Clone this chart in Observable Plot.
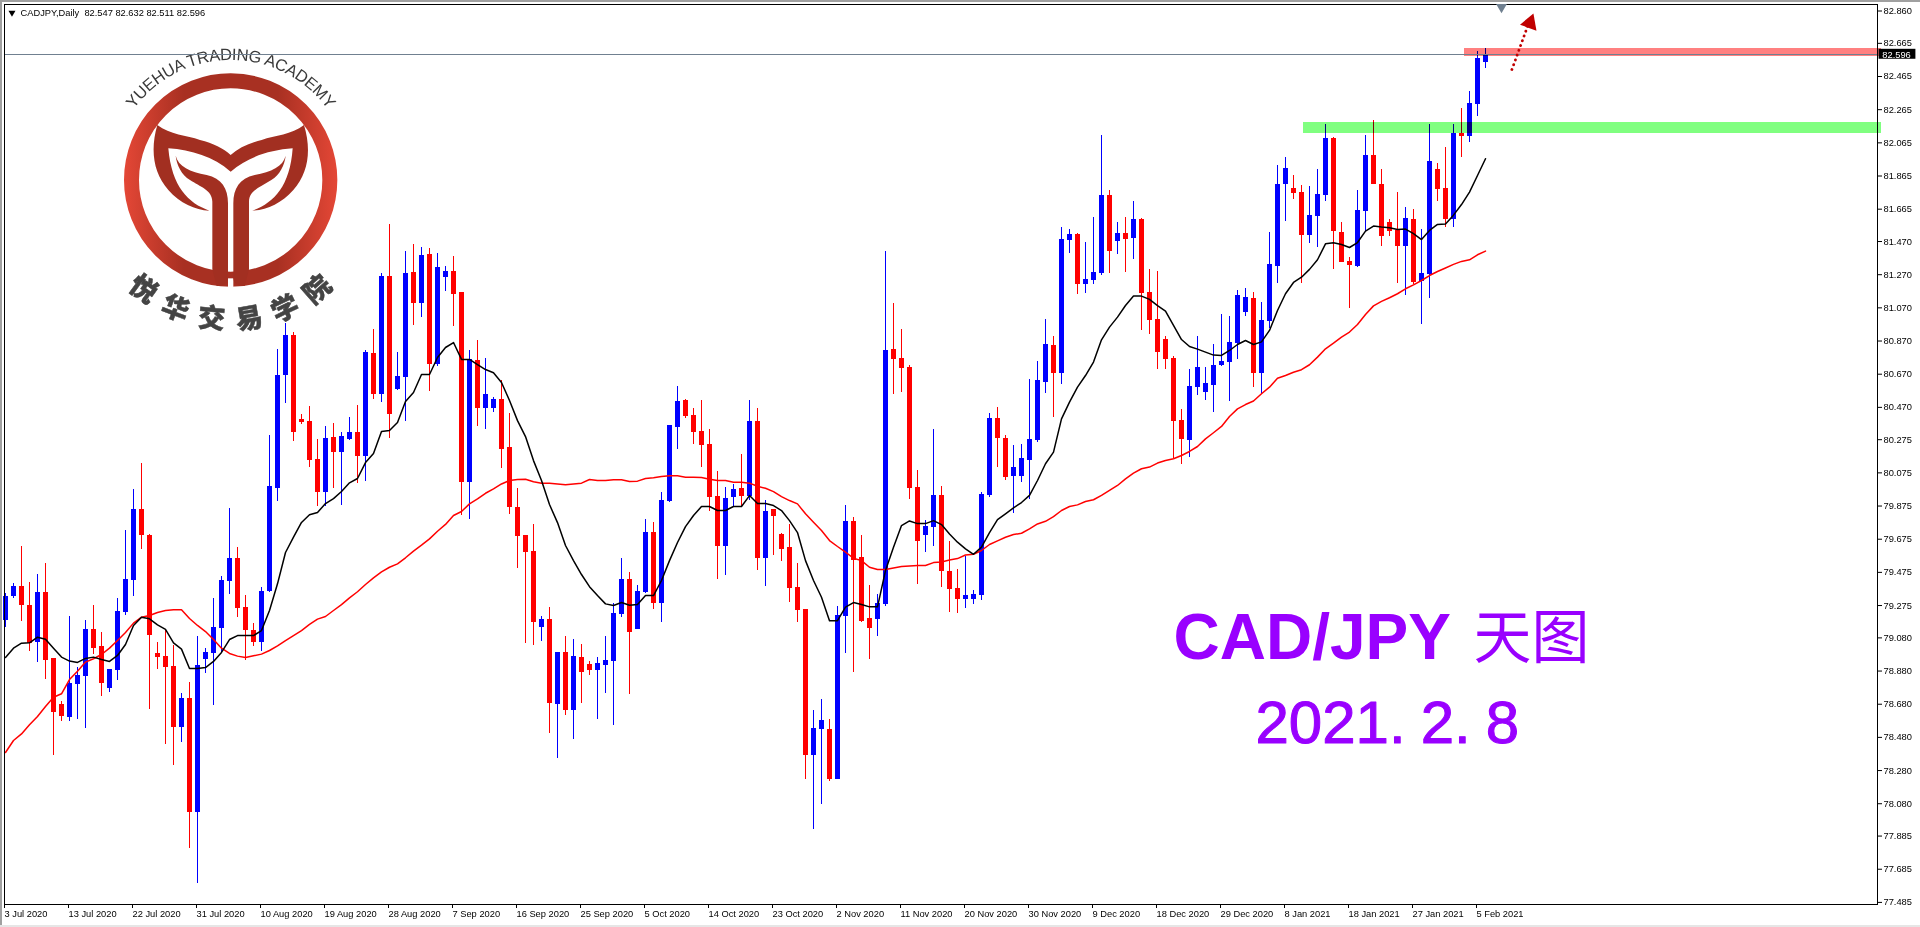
<!DOCTYPE html>
<html>
<head>
<meta charset="utf-8">
<script src="https://cdn.jsdelivr.net/npm/d3@7"></script>
<script src="https://cdn.jsdelivr.net/npm/@observablehq/plot@0.6"></script>
<style>html,body{margin:0;padding:0;background:#fff;overflow:hidden}svg{display:block}</style>
</head>
<body>
<div id="chart"></div>
<script>
const opens=[79.185,79.330,79.390,79.275,79.052,79.354,78.956,78.678,78.600,78.799,
78.847,79.131,79.028,78.775,78.883,79.233,79.426,79.854,79.697,78.986,
78.968,78.907,78.540,78.714,78.027,78.950,78.986,79.137,79.420,79.559,
79.263,79.124,79.052,79.360,79.981,80.662,80.903,80.397,80.385,80.156,
79.957,80.288,80.198,80.276,80.318,80.174,80.795,80.547,81.259,80.578,
80.650,81.283,81.096,81.392,80.728,81.253,81.289,81.163,80.017,80.752,
80.463,80.463,80.517,80.228,79.866,79.697,79.601,79.142,79.191,78.678,
78.992,78.642,78.961,78.919,78.883,78.913,78.937,79.221,79.432,79.130,
79.353,79.715,79.287,79.902,80.348,80.511,80.421,80.324,80.246,79.932,
79.631,79.926,79.980,79.932,80.384,79.558,79.854,79.703,79.627,79.381,
79.249,78.370,78.525,78.525,78.226,79.207,79.781,79.564,79.194,79.188,
79.279,80.819,80.764,80.710,79.986,79.697,79.745,79.936,79.480,79.375,
79.309,79.309,79.333,79.936,80.402,80.282,80.053,80.053,80.150,80.270,
80.620,80.843,80.674,81.476,81.513,81.211,81.235,81.277,81.748,81.470,
81.519,81.488,81.603,81.163,81.000,80.879,80.765,80.391,80.270,80.590,
80.560,80.602,80.723,80.741,80.855,81.042,81.127,80.674,80.988,81.320,
81.814,81.790,81.766,81.507,81.621,81.748,82.091,81.525,81.350,81.320,
81.651,81.989,81.814,81.585,81.537,81.440,81.603,81.229,81.271,81.905,
81.790,81.603,82.121,82.103,82.296,82.547];
const highs=[79.346,79.408,79.633,79.414,79.462,79.529,78.956,78.696,79.209,78.901,
79.185,79.275,79.112,78.889,79.317,79.727,79.975,80.132,79.703,79.052,
79.124,79.034,78.745,78.811,79.088,79.016,79.317,79.450,79.860,79.625,
79.336,79.167,79.384,80.300,80.819,80.976,80.921,80.427,80.475,80.276,
80.355,80.373,80.318,80.409,80.481,80.813,80.939,81.277,81.573,80.801,
81.410,81.452,81.434,81.428,81.398,81.319,81.380,81.163,80.813,80.873,
80.765,80.529,80.632,80.433,79.980,79.697,79.763,79.209,79.263,78.992,
79.088,79.070,79.040,78.937,78.961,79.088,79.287,79.558,79.474,79.396,
79.794,79.776,79.956,80.360,80.595,80.517,80.463,80.511,80.336,80.083,
79.986,80.004,80.185,80.511,80.463,79.908,79.854,79.709,79.763,79.530,
79.249,78.640,78.710,78.585,79.267,79.878,79.805,79.697,79.393,79.339,
81.409,81.096,80.939,80.722,80.089,79.787,80.338,79.990,79.663,79.494,
79.568,79.363,79.954,80.433,80.469,80.302,80.240,80.246,80.638,80.747,
81.000,80.898,81.555,81.543,81.519,81.464,81.615,82.110,81.778,81.585,
81.615,81.712,81.609,81.302,81.289,80.898,80.777,80.457,80.699,80.898,
80.711,80.849,81.030,81.018,81.175,81.187,81.163,81.103,81.525,81.929,
81.977,81.868,81.808,81.802,81.905,82.176,82.097,81.585,81.374,81.778,
82.110,82.200,81.905,81.603,81.766,81.675,81.663,81.543,82.176,81.941,
82.037,82.176,82.272,82.374,82.615,82.632];
const lows=[79.145,79.319,79.179,78.998,78.932,78.829,78.371,78.576,78.576,78.588,
78.534,78.980,78.727,78.751,78.823,79.215,79.330,79.613,78.648,78.889,
78.437,78.310,78.449,77.810,77.599,78.865,78.672,78.984,79.342,79.203,
78.944,79.028,78.998,79.354,79.902,80.493,80.264,80.367,80.107,79.872,
79.872,79.981,79.878,80.270,80.011,80.023,80.517,80.499,80.282,80.572,
80.385,80.964,81.012,80.566,80.716,81.169,80.958,79.818,79.794,80.355,
80.336,80.439,80.101,79.824,79.498,79.046,79.034,79.058,78.503,78.352,
78.612,78.467,78.684,78.853,78.588,78.744,78.551,79.203,78.738,79.130,
79.347,79.251,79.173,79.896,80.216,80.402,80.246,80.107,79.842,79.432,
79.456,79.872,79.872,79.908,79.486,79.390,79.578,79.542,79.293,79.172,
78.226,77.924,78.073,78.214,78.226,78.985,78.873,79.172,78.949,79.088,
79.267,80.547,80.559,79.914,79.400,79.596,79.633,79.381,79.231,79.225,
79.255,79.279,79.303,79.924,80.105,80.027,79.830,80.017,79.915,80.258,
80.554,80.409,80.608,81.398,81.151,81.157,81.211,81.265,81.277,81.392,
81.283,81.362,80.934,80.910,80.699,80.699,80.162,80.126,80.168,80.542,
80.512,80.439,80.717,80.506,80.759,81.018,80.590,80.548,80.946,81.217,
81.591,81.724,81.217,81.458,81.434,81.712,81.302,81.344,81.066,81.314,
81.531,81.814,81.440,81.501,81.217,81.145,81.211,80.970,81.127,81.712,
81.555,81.555,81.976,82.067,82.224,82.511];
const closes=[79.330,79.390,79.275,79.048,79.354,78.944,78.630,78.606,78.805,78.853,
79.131,79.016,78.805,78.889,79.239,79.432,79.854,79.697,79.094,78.962,
78.901,78.540,78.714,78.027,78.913,78.992,79.143,79.426,79.559,79.257,
79.124,79.052,79.360,79.993,80.662,80.903,80.318,80.379,80.149,79.957,
80.282,80.198,80.294,80.318,80.174,80.801,80.547,81.259,80.427,80.656,
81.277,81.096,81.386,80.728,81.313,81.289,81.150,80.017,80.759,80.463,
80.547,80.517,80.216,79.866,79.691,79.595,79.173,79.191,78.684,78.992,
78.642,78.968,78.871,78.883,78.925,78.943,79.227,79.432,79.112,79.359,
79.715,79.287,79.908,80.360,80.505,80.415,80.318,80.240,79.926,79.631,
79.920,79.974,79.932,80.384,79.558,79.842,79.812,79.615,79.375,79.245,
78.370,78.531,78.579,78.226,79.213,79.781,79.546,79.178,79.136,79.285,
80.812,80.758,80.704,79.980,79.664,79.751,79.936,79.480,79.369,79.309,
79.333,79.339,79.942,80.402,80.280,80.049,80.108,80.162,80.276,80.632,
80.849,80.674,81.482,81.513,81.211,81.241,81.283,81.748,81.410,81.519,
81.482,81.603,81.157,80.994,80.801,80.759,80.385,80.276,80.596,80.711,
80.614,80.723,80.747,80.861,81.145,81.133,80.674,80.994,81.332,81.814,
81.911,81.760,81.507,81.627,81.754,82.091,81.531,81.344,81.326,81.657,
81.989,81.814,81.501,81.531,81.440,81.609,81.223,81.277,81.953,81.784,
81.603,82.122,82.103,82.302,82.573,82.596];
const maFast=[78.962,79.018,79.048,79.050,79.084,79.072,79.018,78.964,78.940,78.932,
78.956,78.964,78.950,78.938,78.974,79.040,79.155,79.205,79.195,79.159,
79.131,79.050,79.012,78.895,78.895,78.901,78.938,78.992,79.070,79.094,
79.094,79.094,79.124,79.245,79.406,79.595,79.687,79.776,79.822,79.836,
79.890,79.920,79.963,80.015,80.041,80.137,80.192,80.324,80.330,80.379,
80.505,80.560,80.668,80.668,80.771,80.831,80.861,80.759,80.759,80.728,
80.698,80.679,80.620,80.511,80.390,80.294,80.149,80.029,79.884,79.775,
79.637,79.546,79.462,79.389,79.335,79.285,79.275,79.293,79.277,79.281,
79.335,79.335,79.426,79.546,79.655,79.751,79.818,79.872,79.872,79.848,
79.848,79.872,79.872,79.938,79.890,79.890,79.878,79.848,79.787,79.715,
79.546,79.426,79.325,79.184,79.184,79.265,79.293,79.281,79.267,79.267,
79.486,79.627,79.757,79.785,79.769,79.769,79.787,79.763,79.707,79.657,
79.617,79.584,79.627,79.715,79.793,79.828,79.864,79.896,79.939,80.029,
80.130,80.200,80.401,80.502,80.592,80.662,80.743,80.877,80.954,81.014,
81.084,81.141,81.141,81.121,81.084,81.050,80.964,80.879,80.837,80.821,
80.803,80.785,80.783,80.813,80.849,80.873,80.849,80.865,80.934,81.054,
81.155,81.223,81.255,81.302,81.360,81.456,81.462,81.452,81.434,81.464,
81.533,81.563,81.557,81.553,81.543,81.545,81.517,81.482,81.537,81.573,
81.575,81.629,81.693,81.768,81.868,81.969];
const maSlow=[78.389,78.461,78.501,78.556,78.606,78.666,78.722,78.743,78.829,78.879,
78.934,78.954,78.980,79.018,79.064,79.112,79.169,79.205,79.215,79.233,
79.245,79.249,79.249,79.197,79.155,79.118,79.070,79.018,78.986,78.970,
78.962,78.972,78.982,79.004,79.032,79.064,79.094,79.124,79.161,79.193,
79.209,79.245,79.281,79.321,79.358,79.402,79.442,79.478,79.506,79.526,
79.563,79.603,79.639,79.677,79.723,79.764,79.818,79.842,79.888,79.918,
79.952,79.978,80.008,80.029,80.035,80.037,80.021,80.013,80.013,80.008,
80.004,80.008,80.013,80.035,80.029,80.029,80.033,80.033,80.023,80.025,
80.041,80.045,80.053,80.057,80.057,80.049,80.049,80.047,80.037,80.029,
80.029,80.019,80.019,80.013,79.994,79.982,79.962,79.932,79.908,79.888,
79.828,79.777,79.727,79.667,79.631,79.597,79.560,79.546,79.506,79.492,
79.492,79.502,79.510,79.514,79.516,79.516,79.534,79.538,79.550,79.558,
79.580,79.584,79.607,79.643,79.665,79.687,79.703,79.711,79.737,79.767,
79.783,79.811,79.848,79.872,79.882,79.902,79.913,79.939,79.969,79.999,
80.039,80.073,80.100,80.110,80.134,80.150,80.160,80.180,80.204,80.234,
80.280,80.317,80.355,80.415,80.461,80.487,80.508,80.552,80.592,80.646,
80.662,80.682,80.697,80.727,80.773,80.823,80.857,80.894,80.924,80.970,
81.030,81.082,81.109,81.131,81.155,81.185,81.209,81.235,81.265,81.289,
81.310,81.332,81.350,81.360,81.390,81.412];
const xLabels=["3 Jul 2020","13 Jul 2020","22 Jul 2020","31 Jul 2020","10 Aug 2020","19 Aug 2020","28 Aug 2020","7 Sep 2020","16 Sep 2020","25 Sep 2020","5 Oct 2020","14 Oct 2020","23 Oct 2020","2 Nov 2020","11 Nov 2020","20 Nov 2020","30 Nov 2020","9 Dec 2020","18 Dec 2020","29 Dec 2020","8 Jan 2021","18 Jan 2021","27 Jan 2021","5 Feb 2021"];
const yTicks=[82.860,82.665,82.465,82.265,82.065,81.865,81.665,81.470,81.270,81.070,80.870,80.670,80.470,80.275,80.075,79.875,79.675,79.475,79.275,79.080,78.880,78.680,78.480,78.280,78.080,77.885,77.685,77.485];
const zones=[{x1:162.2,x2:234.5,y1:82.188,y2:82.122,fill:"#80ff80"},{x1:182.4,x2:234.5,y1:82.634,y2:82.587,fill:"#ff8080"}];
const lastClose=82.596;
const title="CADJPY,Daily\u00a0 82.547 82.632 82.511 82.596";
const arrowLine=[{x:188.3,y:82.507},{x:190.3,y:82.773}];

const candles=opens.map((o,i)=>({i,o,h:highs[i],l:lows[i],c:closes[i]}));
const up="#0000ff",down="#ff0000";
const sans='"Liberation Sans",Arial,sans-serif';

function logo(){
  const root=d3.create("svg:g");
  const defs=root.append("defs");
  const g=defs.append("linearGradient").attr("id","ringGrad").attr("gradientUnits","userSpaceOnUse")
    .attr("x1",372).attr("x2",1012).attr("y1",0).attr("y2",0);
  [[0,"#e44736"],[0.28,"#a83022"],[0.72,"#a83022"],[1,"#e44736"]].forEach(([o,c])=>g.append("stop").attr("offset",o).attr("stop-color",c));
  defs.append("path").attr("id","arcEn").attr("d","M121.9,129.3 A120,120 0 0 1 339.5,129.3");
  defs.append("path").attr("id","arcCn").attr("d","M116.6,275.8 A149,149 0 0 0 344.8,275.8");
  const m=root.append("g").attr("transform","scale(0.33333)");
  m.append("circle").attr("cx",692).attr("cy",540).attr("r",297.5).attr("fill","none").attr("stroke","url(#ringGrad)").attr("stroke-width",45);
  m.append("rect").attr("x",684).attr("y",835).attr("width",16).attr("height",32).attr("fill","#fff");
  m.append("path").attr("fill","#a22f21").attr("d","M472,375 C510,405 560,405 600,420 C640,430 670,445 692,465 C714,445 745,430 785,420 C825,405 875,405 912,375 C935,450 925,520 880,570 C845,610 800,630 757,632 C820,610 870,560 878,445 C810,450 745,470 692,515 C640,470 575,450 505,445 C515,560 565,610 628,632 C585,630 540,610 505,570 C460,520 450,450 472,375 Z");
  const stem="M527,467 C535,500 570,515 620,525 C665,535 684,565 684,610 L684,835 Q684,858 650,858 L637,808 L637,605 C637,570 600,560 570,540 C545,525 530,495 527,467 Z";
  m.append("path").attr("fill","#a22f21").attr("d",stem);
  m.append("path").attr("fill","#a22f21").attr("d",stem).attr("transform","translate(1384,0) scale(-1,1)");
  root.append("text").attr("font-family",sans).attr("font-size",16.5).attr("fill","#3a3a3a").attr("text-anchor","middle").attr("letter-spacing",-0.3)
    .append("textPath").attr("href","#arcEn").attr("startOffset","50%").text("YUEHUA TRADING ACADEMY");
  root.append("text").attr("font-family",'"Noto Sans CJK SC"').attr("font-size",27).attr("font-weight",900).attr("fill","#444").attr("stroke","#444").attr("stroke-width",0.5).attr("text-anchor","middle").attr("letter-spacing",13)
    .append("textPath").attr("href","#arcCn").attr("startOffset","52.5%").text("悦华交易学院");
  return root.node();
}
function windowEdges(){
  const root=d3.create("svg:g");
  root.append("rect").attr("x",0).attr("y",0).attr("width",1920).attr("height",2).attr("fill","#a0a0a0");
  root.append("rect").attr("x",0).attr("y",0).attr("width",2).attr("height",927).attr("fill","#a0a0a0");
  root.append("rect").attr("x",0).attr("y",925).attr("width",1920).attr("height",2).attr("fill","#e6e6e6");
  return root.node();
}

const chart=Plot.plot({
  width:1920,height:927,
  marginTop:4,marginLeft:4,marginRight:43,marginBottom:23,
  style:{fontFamily:sans,fontSize:"9.3px",background:"#fff",color:"#000"},
  x:{type:"linear",domain:[0,185],range:[5,1485],axis:null},
  y:{type:"linear",domain:[82.86,77.485],range:[10.5,901.9],axis:null},
  marks:[
    windowEdges,
    logo,
    Plot.ruleX(candles,{x:"i",y1:"l",y2:"h",stroke:d=>d.c>=d.o?up:down,strokeWidth:1,shapeRendering:"crispEdges"}),
    Plot.rect(candles,{x1:d=>d.i-0.25,x2:d=>d.i+0.375,y1:d=>Math.max(d.o,d.c),y2:d=>Math.min(d.o,d.c),fill:d=>d.c>=d.o?up:down,shapeRendering:"crispEdges"}),
    Plot.line(maSlow,{x:(d,i)=>i,y:d=>d,stroke:"#ff0000",strokeWidth:1.5,curve:"linear"}),
    Plot.line(maFast,{x:(d,i)=>i,y:d=>d,stroke:"#000000",strokeWidth:1.5,curve:"linear"}),
    Plot.rect(zones,{x1:"x1",x2:"x2",y1:"y1",y2:"y2",fill:d=>d.fill,mixBlendMode:"multiply",shapeRendering:"crispEdges"}),
    Plot.ruleY([lastClose],{stroke:"#708090",strokeWidth:1,shapeRendering:"crispEdges"}),
    Plot.frame({stroke:"#000",strokeWidth:1,shapeRendering:"crispEdges"}),
    Plot.axisX(d3.range(0,185,8),{anchor:"bottom",label:null,tickSize:4,tickPadding:2,textAnchor:"start",dx:-1,tickFormat:d=>xLabels[d/8],stroke:"#000",fill:"#000"}),
    Plot.axisY(yTicks,{anchor:"right",label:null,tickSize:4,tickPadding:2,textAnchor:"start",tickFormat:d=>d.toFixed(3),stroke:"#000",fill:"#000"}),
    Plot.rect([lastClose],{x1:234.2,x2:238.8,y1:d=>d+0.033,y2:d=>d-0.027,fill:"#000",clip:false}),
    Plot.text([lastClose],{x:234.6,y:d=>d,text:d=>d.toFixed(3),fill:"#fff",textAnchor:"start",fontSize:9.3,fontFamily:sans}),
    Plot.text([title],{x:1.875,y:82.847,text:d=>d,textAnchor:"start",fill:"#000",fontSize:9.3,fontFamily:sans}),
    Plot.dot([0],{x:0.81,y:82.85,r:2.6,symbol:"triangle",rotate:180,fill:"#000",stroke:null}),
    Plot.dot([0],{x:187,y:82.884,r:4,symbol:"triangle",rotate:180,fill:"#708090",stroke:null}),
    Plot.line(arrowLine,{x:"x",y:"y",stroke:"#c00000",strokeWidth:2.8,strokeDasharray:"0.1 5",strokeLinecap:"round"}),
    Plot.dot([0],{x:190.56,y:82.788,r:6.5,symbol:"triangle",rotate:20,fill:"#c00000",stroke:null}),
    Plot.text(["CAD/JPY"],{x:146,y:78.95,text:d=>d,textAnchor:"start",lineAnchor:"bottom",fontFamily:sans,fontWeight:700,fontSize:64,fill:"#9900ff"}),
    Plot.text(["天图"],{x:183.5,y:78.956,text:d=>d,textAnchor:"start",lineAnchor:"bottom",fontFamily:'"Noto Sans CJK SC"',fontSize:58,fill:"#9900ff",style:{letterSpacing:"8px"}}),
    Plot.text(["2021.\u20052.\u20058"],{x:156.25,y:78.449,text:d=>d,textAnchor:"start",lineAnchor:"bottom",fontFamily:sans,fontSize:60,fill:"#9900ff",stroke:"#9900ff",strokeWidth:1})
  ]
});
document.getElementById("chart").appendChild(chart);
</script>
</body>
</html>
